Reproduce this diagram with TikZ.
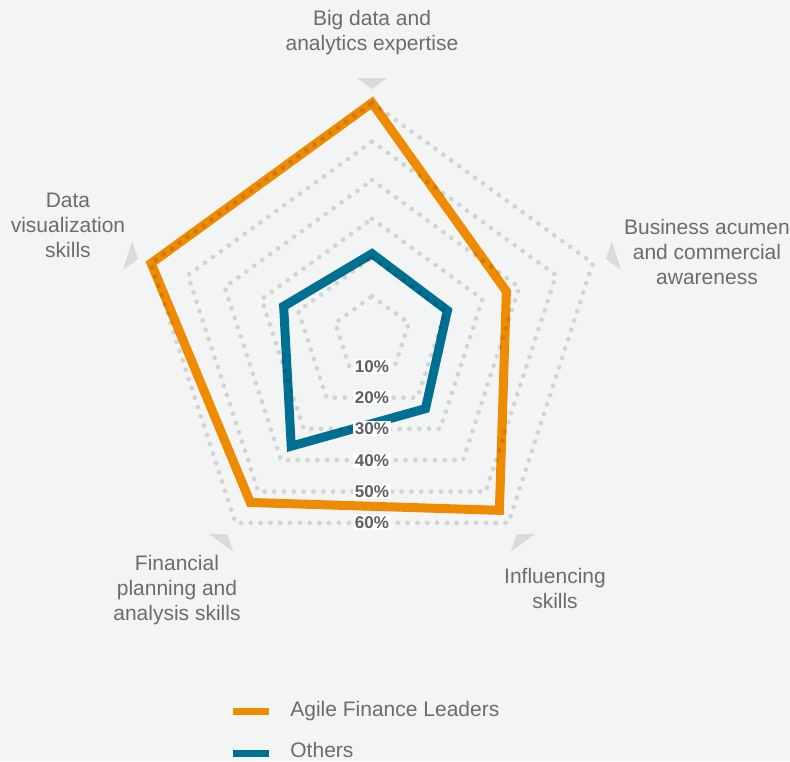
\documentclass[tikz,border=0pt]{standalone}
\usepackage{fontspec}
\setmainfont{Liberation Sans}
\usepackage{xcolor}
\usepackage{tikz}
\usetikzlibrary{calc, positioning}

\definecolor{bgcol}{HTML}{F3F4F4}
\definecolor{agileorange}{HTML}{EE8B00}
\definecolor{othersblue}{HTML}{007092}
\definecolor{labelgray}{HTML}{6B6C6E}
\definecolor{pctgray}{HTML}{5E5F60}
\definecolor{markgray}{HTML}{D9DADA}

\tikzset{
  griddots/.style={black, opacity=0.13, line width=4.8pt, line cap=round, dash pattern=on 0pt off 9.8pt},
  series/.style={line width=9pt, line join=miter},
  axislabel/.style={align=center, text=labelgray, font=\fontsize{21}{25}\selectfont},
  pctlabel/.style={fill=white, inner sep=1.5pt, text=pctgray, font=\fontsize{17}{17}\selectfont\bfseries},
  legendbar/.style={minimum width=36pt, minimum height=7pt, inner sep=0pt},
}

\begin{document}
\begin{tikzpicture}[x=1pt, y=1pt]
\useasboundingbox (-372,-426) rectangle (418,335);
% Background
\fill[bgcol] (-372,-426) rectangle (418,335);

% Others
\draw[series, othersblue] (90:81.3) -- (18:79.3) -- (-54:91) -- (-126:137.4) -- (162:92.9) -- cycle;
% Agile Finance Leaders
\draw[series, agileorange] (90:232.2) -- (18:141.3) -- (-54:216.7) -- (-126:207) -- (162:232.2) -- cycle;

% Grid rings
\foreach \k in {1,...,6}
  \draw[griddots] (90:38.7*\k) -- (18:38.7*\k) -- (-54:38.7*\k) -- (-126:38.7*\k) -- (162:38.7*\k) -- cycle;

% Axis markers
\foreach \a in {90,18,-54,-126,162}
  \fill[markgray] (\a:246) -- (\a+3.34:257.4) -- (\a-3.34:257.4) -- cycle;

% Percent labels
\foreach \k in {1,...,6}
  \node[pctlabel] (pct\k) at (0,-31.3*\k) {\k0\%};

% Axis labels
\node[axislabel] (bigdata) at (0,302.5) {Big data and\\analytics expertise};
\node[axislabel] (business) at (335,83) {Business acumen\\and commercial\\awareness};
\node[axislabel] (dataviz) at (-304,110) {Data\\visualization\\skills};
\node[axislabel] (financial) at (-195,-255) {Financial\\planning and\\analysis skills};
\node[axislabel] (influencing) at (183,-253) {Influencing\\skills};

% Legend
\node[legendbar, fill=agileorange] (keyagile) at (-121,-376.5) {};
\node[axislabel, inner sep=0pt, right=21pt of keyagile] (txtagile) {Agile Finance Leaders};
\node[legendbar, fill=othersblue] (keyothers) at (-121,-418.5) {};
\node[axislabel, inner sep=0pt, right=21pt of keyothers, yshift=4pt] (txtothers) {Others};
\end{tikzpicture}
\end{document}
